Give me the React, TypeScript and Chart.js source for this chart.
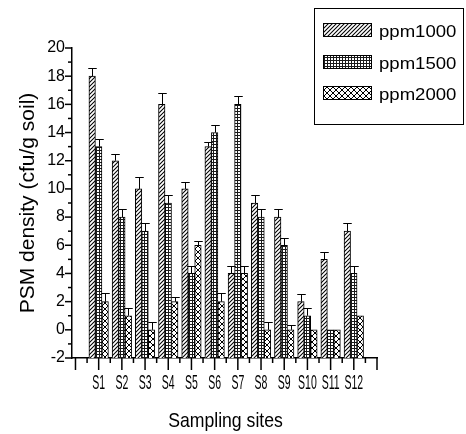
import React, { useEffect, useRef } from 'react';
import { Chart, registerables } from 'chart.js';

Chart.register(...registerables);

// ---- data ----
const sites = ['S1', 'S2', 'S3', 'S4', 'S5', 'S6', 'S7', 'S8', 'S9', 'S10', 'S11', 'S12'];
const seriesNames = ['ppm1000', 'ppm1500', 'ppm2000'];
const ppm1000 = [18, 12, 10, 16, 10, 13, 4, 9, 8, 2, 5, 7];
const ppm1500 = [13, 8, 7, 9, 4, 14, 16, 8, 6, 1, 0, 4];
const ppm2000 = [2, 1, 0, 2, 6, 2, 4, 0, 0, 0, 0, 1];
const err1000 = [0.55, 0.5, 0.87, 0.83, 0.5, 0.3, 0.55, 0.55, 0.55, 0.54, 0.54, 0.56];
const err1500 = [0.55, 0.55, 0.56, 0.55, 0.55, 0.52, 0.56, 0.55, 0.54, 0.52, 0, 0.55];
const err2000 = [0.59, 0.57, 0.58, 0.31, 0.33, 0.59, 0.55, 0.58, 0.33, 0, 0, 0];
const yMin = -2;
const yMax = 20;
const yStep = 2;
const yTitle = 'PSM density (cfu/g soil)';
const xTitle = 'Sampling sites';

const values = [ppm1000, ppm1500, ppm2000];
const errors = [err1000, err1500, err2000];

const FONT = "'Liberation Sans', Arial, sans-serif";

type Kind = 'diag' | 'grid' | 'cross';
const kinds: Kind[] = ['diag', 'grid', 'cross'];

function makeTile(kind: Kind): HTMLCanvasElement {
  const size = kind === 'diag' ? 4 : kind === 'grid' ? 3 : 6;
  const c = document.createElement('canvas');
  c.width = size;
  c.height = size;
  const g = c.getContext('2d')!;
  g.fillStyle = '#fff';
  g.fillRect(0, 0, size, size);
  g.strokeStyle = '#000';
  g.fillStyle = '#1a1a1a';
  g.lineWidth = kind === 'diag' ? 1.05 : 1;
  if (kind === 'diag') {
    g.beginPath();
    g.moveTo(-1, size + 1);
    g.lineTo(size + 1, -1);
    g.moveTo(-1, 1);
    g.lineTo(1, -1);
    g.moveTo(size - 1, size + 1);
    g.lineTo(size + 1, size - 1);
    g.stroke();
  } else if (kind === 'grid') {
    g.fillRect(0, 0, size, 1);
    g.fillRect(0, 0, 1, size);
  } else {
    g.beginPath();
    g.moveTo(0, 0);
    g.lineTo(size, size);
    g.moveTo(0, size);
    g.lineTo(size, 0);
    g.stroke();
  }
  return c;
}

export default function App() {
  const canvasRef = useRef<HTMLCanvasElement | null>(null);

  useEffect(() => {
    const canvas = canvasRef.current;
    if (!canvas) return;
    const ctx0 = canvas.getContext('2d')!;
    const patterns = kinds.map((k) => ctx0.createPattern(makeTile(k), 'repeat')!);

    const decor = {
      id: 'decor',
      afterDatasetsDraw(chart: any) {
        const ctx = chart.ctx;
        const ys = chart.scales.y;
        ctx.save();
        ctx.strokeStyle = '#000';
        ctx.lineWidth = 1;
        chart.data.datasets.forEach((_ds: any, i: number) => {
          const meta = chart.getDatasetMeta(i);
          meta.data.forEach((bar: any, j: number) => {
            const e = errors[i][j];
            if (!e) return;
            const yt = Math.round(ys.getPixelForValue(values[i][j] + e)) + 0.5;
            const bx = Math.round(bar.x) + 0.5;
            const half = bar.width / 2 + 1;
            ctx.beginPath();
            ctx.moveTo(bx, bar.y);
            ctx.lineTo(bx, yt);
            ctx.moveTo(bx - half, yt);
            ctx.lineTo(bx + half, yt);
            ctx.stroke();
          });
        });
        ctx.restore();
      },
      afterDraw(chart: any) {
        const ctx = chart.ctx;
        const xs = chart.scales.x;
        const ys = chart.scales.y;
        const area = chart.chartArea;
        ctx.save();
        ctx.strokeStyle = '#000';
        ctx.lineWidth = 1.5;
        // y ticks (major + minor)
        for (let v = yMin; v <= yMax; v += 1) {
          const py = ys.getPixelForValue(v);
          const len = (v - yMin) % yStep === 0 ? 7 : 4;
          ctx.beginPath();
          ctx.moveTo(area.left - len, py);
          ctx.lineTo(area.left, py);
          ctx.stroke();
        }
        // x ticks (major + minor)
        for (let k = 0; k <= sites.length + 1; k += 0.5) {
          const px = xs.getPixelForValue(k);
          const len = Number.isInteger(k) ? 12 : 5;
          ctx.beginPath();
          ctx.moveTo(px, area.bottom);
          ctx.lineTo(px, area.bottom + len);
          ctx.stroke();
        }
        // x tick labels (condensed)
        ctx.fillStyle = '#000';
        ctx.font = `21px ${FONT}`;
        ctx.textAlign = 'center';
        ctx.textBaseline = 'alphabetic';
        sites.forEach((s, i) => {
          const px = xs.getPixelForValue(i + 1);
          ctx.save();
          ctx.translate(px, area.bottom + 31);
          ctx.scale(0.5, 1);
          ctx.fillText(s, 0, 0);
          ctx.restore();
        });
        // x axis title (slightly condensed)
        ctx.save();
        ctx.translate((area.left + area.right) / 2 + 1, area.bottom + 68.5);
        ctx.scale(0.84, 1);
        ctx.fillText(xTitle, 0, 0);
        ctx.restore();
        // legend
        ctx.lineWidth = 1;
        ctx.strokeRect(314.5, 8.5, 149, 116);
        seriesNames.forEach((name, i) => {
          const top = Math.round(23 + i * 31.6);
          ctx.fillStyle = patterns[i];
          ctx.fillRect(323, top, 49, 14);
          ctx.strokeRect(323.5, top + 0.5, 48, 13);
          ctx.save();
          ctx.fillStyle = '#000';
          ctx.font = `16px ${FONT}`;
          ctx.textAlign = 'left';
          ctx.textBaseline = 'alphabetic';
          ctx.translate(379, top + 14);
          ctx.scale(1.16, 1);
          ctx.fillText(name, 0, 0);
          ctx.restore();
        });
        ctx.restore();
      },
    };

    const chart = new Chart(canvas, {
      type: 'bar',
      data: {
        datasets: seriesNames.map((name, i) => ({
          label: name,
          data: values[i].map((v, j) => ({ x: j + 1, y: v })),
          backgroundColor: patterns[i],
          borderColor: '#000',
          borderWidth: 1,
          base: yMin,
          barThickness: 6.5,
        })),
      },
      options: {
        animation: false,
        responsive: false,
        devicePixelRatio: 1,
        layout: { padding: { left: 0, top: 48, right: 89, bottom: 0 } },
        plugins: {
          legend: { display: false },
          tooltip: { enabled: false },
        },
        scales: {
          x: {
            type: 'linear',
            offset: false,
            min: -0.15,
            max: 13,
            ticks: { display: false, stepSize: 1, includeBounds: false },
            grid: { display: false, drawTicks: false, offset: false },
            border: { display: true, color: '#000', width: 1.5 },
            title: { display: false, text: xTitle },
            afterFit: (s: any) => {
              s.height = 76;
            },
          },
          y: {
            min: yMin,
            max: yMax,
            ticks: {
              stepSize: yStep,
              color: '#000',
              font: { family: FONT, size: 16 },
              padding: 7,
            },
            grid: { display: false, drawTicks: false },
            border: { display: true, color: '#000', width: 1.5 },
            title: {
              display: true,
              text: yTitle,
              color: '#000',
              font: { family: FONT, size: 21 },
              padding: { top: 16, bottom: 0 },
            },
            afterFit: (s: any) => {
              s.width = 72;
            },
          },
        },
      } as any,
      plugins: [decor],
    });

    return () => chart.destroy();
  }, []);

  return (
    <div style={{ position: 'fixed', left: 0, top: 0, width: 466, height: 434, background: '#fff' }}>
      <canvas ref={canvasRef} width={466} height={434} style={{ display: 'block', width: 466, height: 434 }} />
    </div>
  );
}
